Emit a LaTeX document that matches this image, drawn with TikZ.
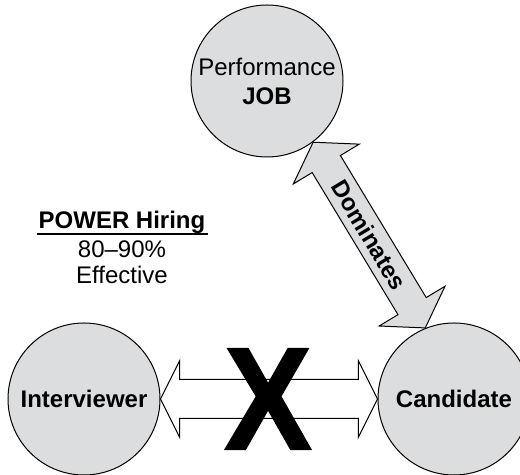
\documentclass[tikz,border=0pt]{standalone}
\usepackage{fontspec}
\setmainfont{Liberation Sans}
\newfontfamily\crossfont[FakeBold=1.2]{Liberation Sans Bold}
\usetikzlibrary{calc}
\usetikzlibrary{shapes.arrows}
\definecolor{discgray}{RGB}{220,221,223}

\begin{document}
\begin{tikzpicture}[x = 0.5pt, y = 0.5pt,
        disc/.style = {circle, draw = black, line width = 0.5pt, fill = discgray, minimum size = 76pt, inner sep = 0pt, align = center, font = \bfseries\fontsize{12}{14.5}\selectfont},
        twoway/.style = {double arrow, draw = black, line width = 0.5pt, inner xsep = 0pt, minimum width = 38pt, font = \bfseries\fontsize{12}{14}\selectfont}]
                \useasboundingbox (0,0) rectangle (520,475);
                \node[disc] (job) at (267,394) {\mdseries Performance\\JOB};
                \node[disc] (iv) at (84,76) {Interviewer};
                \node[disc] (cand) at (454,76) {Candidate};
                \path let \p1 = ($(cand.west)-(iv.east)$) in
                    node[twoway, fill = white, inner ysep = 9.5pt, double arrow head extend = 9.5pt, double arrow tip angle = 127,
                        minimum height = {veclen(\x1,\y1)}] (talk) at ($(iv.east)!0.5!(cand.west)$) {};
                \path let \p1 = ($(cand.112)-(job.-53)$) in
                    node[twoway, fill = discgray, text height = 8.5pt, text depth = 0pt, inner ysep = 3.75pt, double arrow head extend = 11pt, double arrow tip angle = 113,
                        minimum height = {veclen(\x1,\y1)}, rotate = {atan2(\y1,\x1)}] (dom) at ($(job.-53)!0.5!(cand.112)$) {Dominates};
                \node[xscale = 0.9, font = \crossfont\fontsize{73}{73}\selectfont] (cross) at (268,76) {X};
                \node[anchor = base, font = \bfseries\fontsize{12}{14}\selectfont] (power) at (122,246.7) {POWER Hiring};
                \draw[line width = 0.75pt] (37,241) -- (208,241);
                \node[anchor = base, font = \fontsize{12}{14}\selectfont] (rate) at (122,217.7) {80--90\%};
                \node[anchor = base, font = \fontsize{12}{14}\selectfont] (eff) at (122,191.7) {Effective};
\end{tikzpicture}
\end{document}
